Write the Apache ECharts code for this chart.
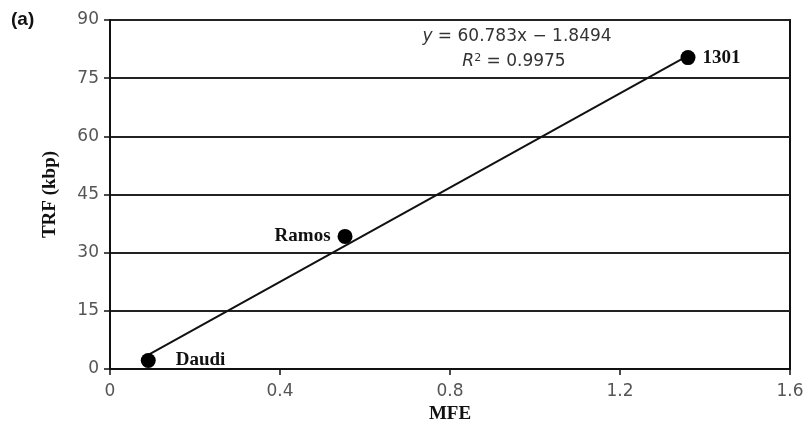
<!DOCTYPE html>
<html><head><meta charset="utf-8">
<script src="https://cdn.jsdelivr.net/npm/echarts@6/dist/echarts.min.js"></script>
<style>html,body{margin:0;padding:0;background:#fff}#c{width:812px;height:430px}</style>
</head><body><div id="c"></div>
<script>
const cellLines = ['Daudi', 'Ramos', '1301'];
const mfe = [0.09, 0.553, 1.36];
const trf = [2.2, 34.2, 80.3];
const trendX = [0.09, 1.36];
const trendY = [3.62, 80.82];
const yTicks = [0, 15, 30, 45, 60, 75, 90];
const xTicks = [0, 0.4, 0.8, 1.2, 1.6];
const labelPos = ['right', 'left', 'right'];
const labelDist = [20, 7, 7];

const chart = echarts.init(document.getElementById('c'));
const axisFont = {fontFamily: 'DejaVu Sans', fontSize: 17, color: '#555'};
const nameFont = {fontFamily: 'Liberation Serif', fontWeight: 'bold', fontSize: 19, color: '#111'};
chart.setOption({
  animation: false,
  grid: {left: 110, right: 22, top: 20, bottom: 61, show: true, borderColor: '#111', borderWidth: 2},
  xAxis: {
    type: 'value', min: 0, max: 1.6, interval: 0.4,
    name: 'MFE', nameLocation: 'middle', nameGap: 31,
    nameTextStyle: nameFont,
    axisLine: {show: true, lineStyle: {color: '#111', width: 2}},
    axisTick: {show: true, length: 6, lineStyle: {color: '#111', width: 1.5}},
    splitLine: {show: false},
    axisLabel: Object.assign({margin: 14, formatter: v => xTicks.includes(+v.toFixed(1)) ? String(+v.toFixed(1)) : ''}, axisFont)
  },
  yAxis: {
    type: 'value', min: 0, max: 90, interval: 15,
    name: 'TRF (kbp)', nameLocation: 'middle', nameGap: 50, nameRotate: 90,
    nameTextStyle: nameFont,
    axisLine: {show: true, lineStyle: {color: '#111', width: 2}},
    axisTick: {show: true, length: 6, lineStyle: {color: '#111', width: 1.5}},
    splitLine: {show: true, lineStyle: {color: '#222', width: 2}},
    axisLabel: Object.assign({margin: 11, formatter: v => yTicks.includes(v) ? String(v) : ''}, axisFont)
  },
  series: [
    {
      type: 'line', data: trendX.map((x, i) => [x, trendY[i]]),
      symbol: 'none', lineStyle: {color: '#111', width: 2}, z: 2
    },
    {
      type: 'scatter', symbolSize: 15, itemStyle: {color: '#000', opacity: 1}, z: 3,
      data: mfe.map((x, i) => ({value: [x, trf[i]], name: cellLines[i],
        label: {show: true, position: labelPos[i], distance: labelDist[i], formatter: cellLines[i]}})),
      label: {fontFamily: 'Liberation Serif', fontWeight: 'bold', fontSize: 19, color: '#111'}
    }
  ],
  graphic: [
    {type: 'text', x: 11, y: 10, style: {text: '(a)', font: 'bold 19px "Liberation Sans"', fill: '#111'}},
    {type: 'text', x: 517, y: 37, style: {
      text: '{i|y} = 60.783x \u2212 1.8494', align: 'center', verticalAlign: 'middle', fill: '#333',
      font: '17px "DejaVu Sans"',
      rich: {i: {fontStyle: 'italic', fontFamily: 'DejaVu Sans', fontSize: 17, fill: '#333'}}}},
    {type: 'text', x: 514, y: 62, style: {
      text: '{i|R}{s|2} = 0.9975', align: 'center', verticalAlign: 'middle', fill: '#333',
      font: '17px "DejaVu Sans"',
      rich: {i: {fontStyle: 'italic', fontFamily: 'DejaVu Sans', fontSize: 17, fill: '#333'},
             s: {fontFamily: 'DejaVu Sans', fontSize: 11, verticalAlign: 'top', padding: [0, 0, 8, 0], fill: '#333'}}}}
  ]
});
</script></body></html>
